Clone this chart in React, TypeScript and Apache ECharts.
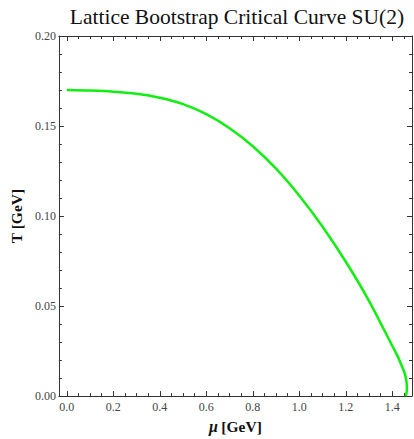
import React, { useEffect, useRef } from "react";
import * as echarts from "echarts";

const muValues = [0, 0.1, 0.2, 0.3, 0.4, 0.5, 0.6, 0.7, 0.8, 0.9, 1.0, 1.1, 1.2, 1.3, 1.4, 1.425, 1.44, 1.452, 1.459, 1.462, 1.4625, 1.46, 1.457];
const tValues = [0.17, 0.1697, 0.1691, 0.1679, 0.1657, 0.1622, 0.1566, 0.1488, 0.1388, 0.1263, 0.1113, 0.0941, 0.0746, 0.0528, 0.0278, 0.0215, 0.0169, 0.0131, 0.0095, 0.0065, 0.0035, 0.0012, 0];
const xMajorTicks = [0, 0.2, 0.4, 0.6, 0.8, 1.0, 1.2, 1.4];
const xMinorTicks = [0.05, 0.1, 0.15, 0.25, 0.3, 0.35, 0.45, 0.5, 0.55, 0.65, 0.7, 0.75, 0.85, 0.9, 0.95, 1.05, 1.1, 1.15, 1.25, 1.3, 1.35, 1.45];
const titleText = "Lattice Bootstrap Critical Curve SU(2)";

const X_MIN = -0.0338;
const X_MAX = 1.4845;
const FONT = "'Liberation Serif', 'DejaVu Serif', serif";
const FRAME = "#333";

export default function App() {
  const ref = useRef<HTMLDivElement>(null);
  useEffect(() => {
    if (!ref.current) return;
    const chart = echarts.init(ref.current, null, { renderer: "svg" });
    const data = muValues.map((m, i) => [m, tValues[i]]);
    const baseX = (position: string, ticks: number[], len: number, labels: boolean, line: boolean) => ({
      type: "value",
      position,
      min: X_MIN,
      max: X_MAX,
      axisLine: { show: line, onZero: false, lineStyle: { color: FRAME, width: 1 } },
      axisTick: { show: true, inside: true, length: len, customValues: ticks, lineStyle: { color: FRAME, width: 1 } },
      axisLabel: labels
        ? {
            show: true,
            customValues: xMajorTicks,
            formatter: (v: number) => v.toFixed(1),
            fontFamily: FONT,
            fontSize: 12,
            color: "#444",
            margin: 5,
          }
        : { show: false },
      splitLine: { show: false },
    });
    chart.setOption({
      animation: false,
      title: {
        text: titleText,
        left: 232,
        textAlign: "center",
        top: 1,
        textStyle: { fontFamily: FONT, fontSize: 21.5, fontWeight: "normal", color: "#111" },
      },
      grid: { left: 53, top: 36, right: 2, bottom: 42, containLabel: false },
      xAxis: [
        {
          ...baseX("bottom", xMajorTicks, 5, true, true),
          name: "{i|μ} {b|[GeV]}",
          nameLocation: "middle",
          nameGap: 17,
          nameTextStyle: {
            rich: {
              i: { fontFamily: FONT, fontSize: 16, fontStyle: "italic", fontWeight: "bold", color: "#111" },
              b: { fontFamily: FONT, fontSize: 15.5, fontWeight: "bold", color: "#111" },
            },
          },
        },
        { ...baseX("bottom", xMinorTicks, 3, false, false) },
        { ...baseX("top", xMajorTicks, 5, false, true) },
        { ...baseX("top", xMinorTicks, 3, false, false) },
      ],
      yAxis: [
        {
          type: "value",
          position: "left",
          min: 0,
          max: 0.2,
          interval: 0.05,
          name: "T [GeV]",
          nameLocation: "middle",
          nameRotate: 90,
          nameGap: 30,
          nameTextStyle: { fontFamily: FONT, fontSize: 15.5, fontWeight: "bold", color: "#111" },
          axisLine: { show: true, onZero: false, lineStyle: { color: FRAME, width: 1 } },
          axisTick: { show: true, inside: true, length: 5, lineStyle: { color: FRAME } },
          minorTick: { show: true, splitNumber: 5, length: 3, lineStyle: { color: FRAME } },
          axisLabel: { formatter: (v: number) => v.toFixed(2), fontFamily: FONT, fontSize: 12, color: "#444", margin: 3 },
          splitLine: { show: false },
        },
        {
          type: "value",
          position: "right",
          min: 0,
          max: 0.2,
          interval: 0.05,
          axisLine: { show: true, onZero: false, lineStyle: { color: FRAME, width: 1 } },
          axisTick: { show: true, inside: true, length: 5, lineStyle: { color: FRAME } },
          minorTick: { show: true, splitNumber: 5, length: 3, lineStyle: { color: FRAME } },
          axisLabel: { show: false },
          splitLine: { show: false },
        },
      ],
      series: [
        {
          type: "line",
          data,
          xAxisIndex: 0,
          yAxisIndex: 0,
          smooth: 0.3,
          showSymbol: false,
          lineStyle: { color: "#11ee11", width: 2.5 },
        },
      ],
    });
    return () => chart.dispose();
  }, []);
  return <div ref={ref} style={{ position: "fixed", left: 0, top: 0, width: 414, height: 439, background: "#fff" }} />;
}
